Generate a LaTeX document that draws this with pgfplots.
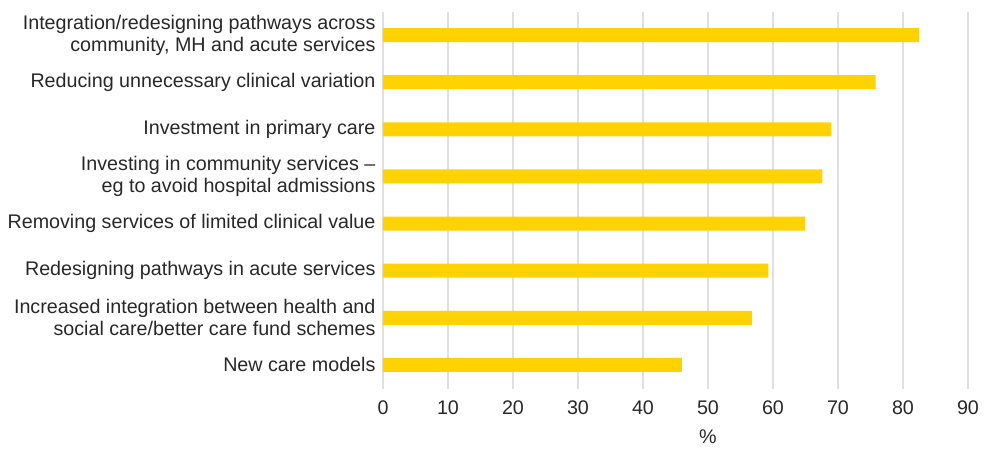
\documentclass[border=0pt]{standalone}
\usepackage{pgfplots}
\pgfplotsset{compat=1.18}
\usepackage{fontspec}
\setmainfont{Liberation Sans}
\definecolor{bargold}{RGB}{255,210,0}
\definecolor{txt}{RGB}{40,40,40}
\definecolor{gridc}{RGB}{224,224,228}
\begin{document}
\begin{tikzpicture}
\useasboundingbox (-383pt,-59.5pt) rectangle (612pt,388.5pt);
\begin{axis}[
 at={(0,0)}, anchor=south west,
 scale only axis, width=585pt, height=377pt,
 xbar, bar width=14pt,
 xmin=0, xmax=90, ymin=-0.5, ymax=7.5, y dir=reverse,
 xtick={0,10,...,90},
 ytick={0,...,7},
 yticklabels={{Integration/redesigning pathways across\\community, MH and acute services},
   {Reducing unnecessary clinical variation},
   {Investment in primary care},
   {Investing in community services --\\eg to avoid hospital admissions},
   {Removing services of limited clinical value},
   {Redesigning pathways in acute services},
   {Increased integration between health and\\social care/better care fund schemes},
   {New care models}},
 axis line style={draw=none},
 major tick length=0pt,
 xmajorgrids, grid style={gridc, line width=1.5pt},
 tick label style={font=\fontsize{19.7}{22}\selectfont, text=txt},
 yticklabel style={align=right, xshift=-4pt},
 xticklabel style={yshift=-9pt},
 xlabel={\%}, xlabel style={font=\fontsize{19.7}{22}\selectfont, text=txt, yshift=-8pt, xshift=32.5pt},
 /pgf/number format/assume math mode=true,
]
\addplot[fill=bargold, draw=none] coordinates {(82.5,0) (75.8,1) (69.0,2) (67.6,3) (64.9,4) (59.3,5) (56.8,6) (46.0,7)};
\end{axis}
\end{tikzpicture}
\end{document}
